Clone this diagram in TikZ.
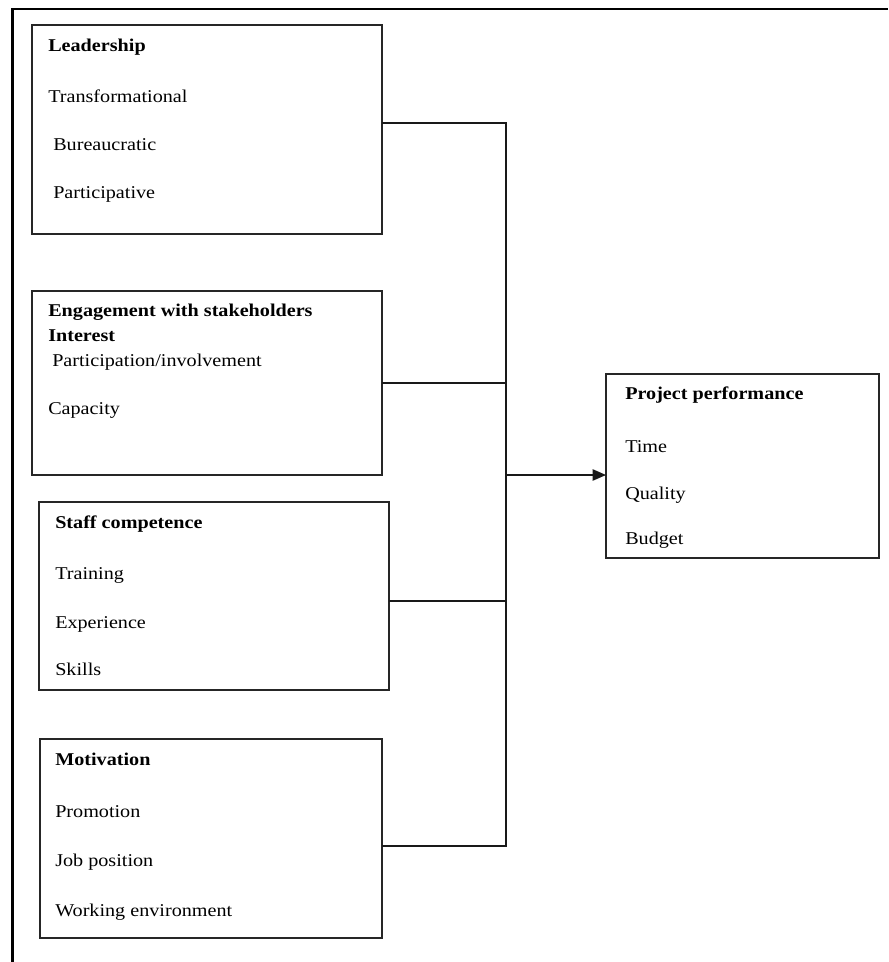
\documentclass[tikz,border=0pt]{standalone}
\usepackage{fontspec}
\setmainfont{Liberation Serif}[FakeStretch=1.12]
\usetikzlibrary{arrows.meta}
\tikzset{
  bx/.style 2 args={draw=black!85, line width=1.1pt, inner sep=0pt, outer sep=0pt,
    minimum width=#1*0.75pt, minimum height=#2*0.75pt, anchor=north west},
  lbl/.style={anchor=base west, inner sep=0pt, font=\fontsize{13.5}{16}\selectfont},
  hd/.style={lbl, font=\fontsize{13.5}{16}\selectfont\bfseries},
  conn/.style={draw=black!90, line width=1pt},
  frame/.style={draw=black, line width=1.8pt}
}
\begin{document}
\begin{tikzpicture}[x=0.75pt,y=-0.75pt]
\useasboundingbox (0,0) rectangle (888,962);
\draw[frame] (12.5,962) -- (12.5,9) -- (888,9);
% boxes
\node[bx={350}{209}] (lead) at (32,25) {};
\node[bx={350}{184}] (eng) at (32,291) {};
\node[bx={350}{188}] (staff) at (39,502) {};
\node[bx={342}{199}] (mot) at (40,739) {};
\node[bx={273}{184}] (proj) at (606,374) {};
% texts
\node[hd] (t1) at (48,52) {Leadership};
\node[lbl] (t2) at (48,103) {Transformational};
\node[lbl] (t3) at (53,151) {Bureaucratic};
\node[lbl] (t4) at (53,199) {Participative};
\node[hd] (e1) at (48,316) {Engagement with stakeholders};
\node[hd] (e2) at (48,341) {Interest};
\node[lbl] (e3) at (52,366) {Participation/involvement};
\node[lbl] (e4) at (48,414) {Capacity};
\node[hd] (s1) at (55,528) {Staff competence};
\node[lbl] (s2) at (55,579) {Training};
\node[lbl] (s3) at (55,628) {Experience};
\node[lbl] (s4) at (55,675) {Skills};
\node[hd] (m1) at (55,765) {Motivation};
\node[lbl] (m2) at (55,817) {Promotion};
\node[lbl] (m3) at (55,866) {Job position};
\node[lbl] (m4) at (55,916) {Working environment};
\node[hd] (p1) at (625,399) {Project performance};
\node[lbl] (p2) at (625,452) {Time};
\node[lbl] (p3) at (625,499) {Quality};
\node[lbl] (p4) at (625,544) {Budget};
% connectors
\coordinate (jt) at (506,123);
\coordinate (j2) at (506,383);
\coordinate (ja) at (506,475);
\coordinate (j3) at (506,601);
\coordinate (jb) at (506,846);
\draw[conn] (lead.east |- jt) -- (jt) -- (jb) -- (mot.east |- jb);
\draw[conn] (eng.east |- j2) -- (j2);
\draw[conn] (staff.east |- j3) -- (j3);
\draw[conn, -{Triangle[length=10pt,width=8.5pt]}] (ja) -- (proj.west |- ja);
\end{tikzpicture}
\end{document}
